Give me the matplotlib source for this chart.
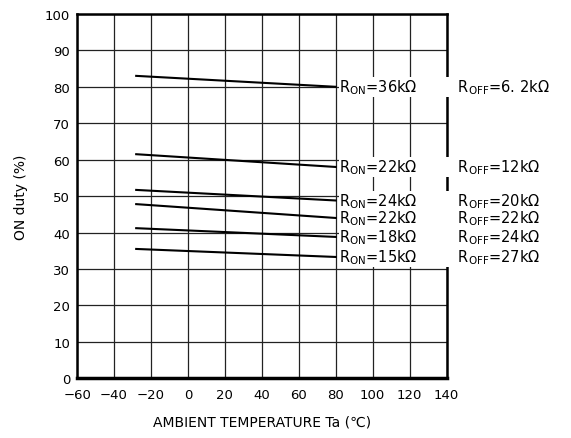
import matplotlib.pyplot as plt
import numpy as np

# ON duty (%) vs ambient temperature
temp = [-28, 80]
duty_36k_6k2 = [83.0, 80.0]
duty_22k_12k = [61.5, 58.0]
duty_24k_20k = [51.7, 48.8]
duty_22k_22k = [47.8, 44.0]
duty_18k_24k = [41.2, 38.8]
duty_15k_27k = [35.5, 33.3]

series = [duty_36k_6k2, duty_22k_12k, duty_24k_20k,
          duty_22k_22k, duty_18k_24k, duty_15k_27k]
r_on = ['36k', '22k', '24k', '22k', '18k', '15k']
r_off = ['6. 2k', '12k', '20k', '22k', '24k', '27k']

x_ticks = np.arange(-60, 141, 20)
y_ticks = np.arange(0, 101, 10)

plt.rcParams['font.family'] = ['DejaVu Sans']

fig = plt.figure(figsize=(5.71, 4.39), dpi=100)
ax = fig.add_axes([0.135, 0.136, 0.647, 0.830])

ax.set_xlim(-60, 140)
ax.set_ylim(0, 100)
ax.set_xticks(x_ticks)
ax.set_yticks(y_ticks)
ax.tick_params(length=0, labelsize=9.5, pad=5)
ax.tick_params(axis='x', pad=7)
ax.grid(True, color='#222222', linewidth=0.9)
ax.set_axisbelow(True)
for side in ['left', 'right', 'top']:
    ax.spines[side].set_linewidth(1.8)
ax.spines['bottom'].set_linewidth(2.5)

for vals, ron, roff in zip(series, r_on, r_off):
    ax.plot(temp, vals, color='black', linewidth=1.5, zorder=4)
    label = (r'R$_{\rm ON}$=' + ron + '\u03a9         ' +
             r'R$_{\rm OFF}$=' + roff + '\u03a9')
    ax.text(temp[-1] + 2, vals[-1], label, ha='left', va='center',
            fontsize=10.5, zorder=5, clip_on=False,
            bbox=dict(facecolor='white', edgecolor='none', pad=0.3))

ax.set_xlabel('AMBIENT TEMPERATURE Ta (\u2103)', fontsize=10, labelpad=10)
ax.set_ylabel('ON duty (%)', fontsize=10, labelpad=12)

fig.savefig('out.png', dpi=100)
